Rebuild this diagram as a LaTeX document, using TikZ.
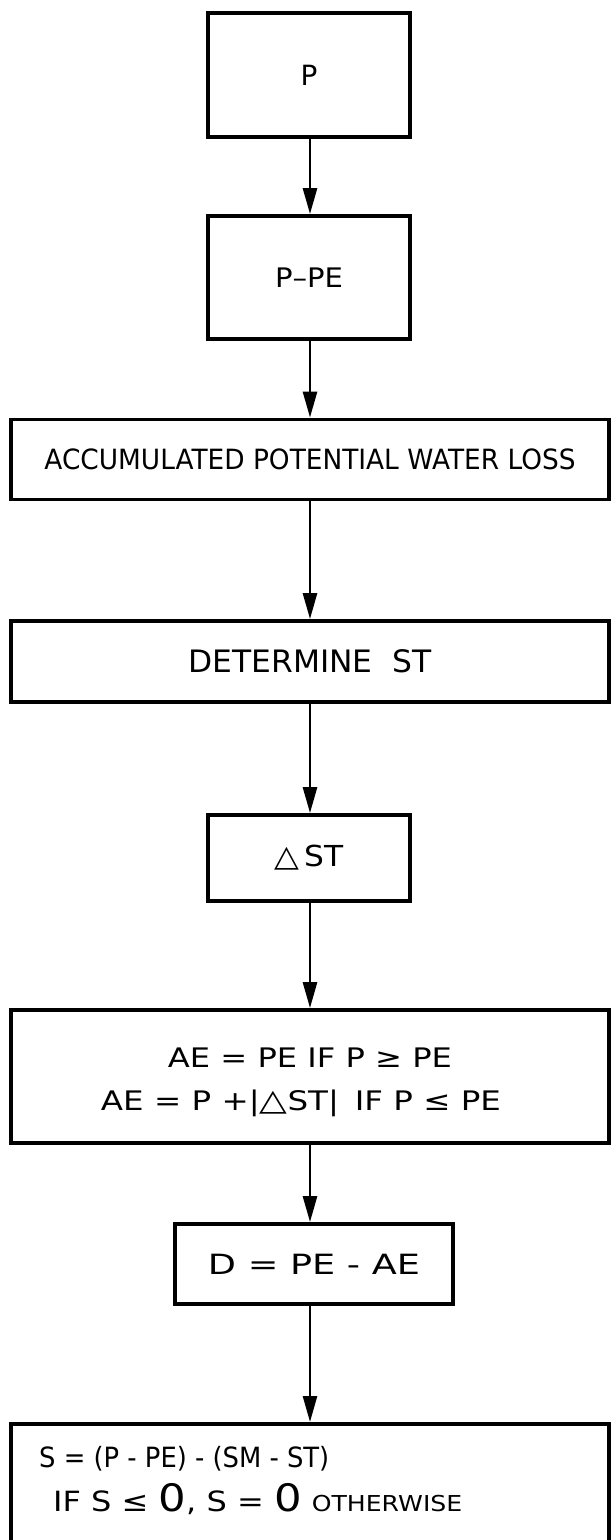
\documentclass[tikz,border=0pt]{standalone}
\usepackage{fontspec}
\usepackage{graphicx}
\setmainfont{DejaVu Sans}
\usetikzlibrary{arrows.meta,calc}
\newcommand\fitw[3]{{\fontsize{#1}{#1}\selectfont\resizebox{#2}{\height}{#3}}}
\newcommand\tri{{\fontsize{30}{30}\selectfont △}}
\begin{document}
\begin{tikzpicture}[x=1bp,y=-1bp,
  box/.style={draw, line width=3.8bp, inner sep=0pt},
  arr/.style={line width=2.6bp, -{Triangle[length=26bp,width=14bp]}},
  lbl/.style={inner sep=0pt}]
\fill[white] (0,0) rectangle (611,1540);
\useasboundingbox (0,0) rectangle (611,1540);
\coordinate (axis) at (310,0);
% boxes
\node[box, minimum width=202bp, minimum height=124bp] (p) at (309,75) {\fontsize{28}{28}\selectfont P};
\node[box, minimum width=202bp, minimum height=123bp] (ppe) at (309,277.5) {\fitw{27}{68bp}{P–PE}};
\node[box, minimum width=598bp, minimum height=80bp] (acc) at (310,459.5) {\fitw{28}{531bp}{ACCUMULATED POTENTIAL WATER LOSS}};
\node[box, minimum width=598bp, minimum height=81bp] (det) at (310,661.5) {\fitw{31}{243bp}{DETERMINE~~ST}};
\node[box, minimum width=202bp, minimum height=86bp] (dst) at (309,858) {\fitw{29}{69bp}{\tri\,ST}};
\node[box, minimum width=598bp, minimum height=133bp] (ae) at (310,1076.5) {};
\node[lbl, anchor=base] (ae1) at (310,1067) {\fitw{27}{284bp}{AE = PE IF P ≥ PE}};
\node[lbl, anchor=base] (ae2) at (301,1110) {\fitw{27}{400bp}{AE = P +|\tri ST|\, IF P ≤ PE}};
\node[box, minimum width=278bp, minimum height=80bp] (d) at (314,1264) {\fitw{28}{212bp}{D = PE - AE}};
\node[box, minimum width=598bp, minimum height=140bp, anchor=north] (s) at (310,1422) {};
\node[lbl, anchor=base west] (s1) at (39,1467) {\fitw{28}{290bp}{S = (P - PE) - (SM - ST)}};
\node[lbl, anchor=base west] (s2) at (53,1511) {\fitw{28}{409bp}{IF S ≤ {\fontsize{38}{38}\selectfont 0}, S = {\fontsize{38}{38}\selectfont 0} {\fontsize{22}{22}\selectfont OTHERWISE}}};
% connectors
\draw[arr] (p.south -| axis) -- (ppe.north -| axis);
\draw[arr] (ppe.south -| axis) -- (acc.north -| axis);
\draw[arr] (acc.south -| axis) -- (det.north -| axis);
\draw[arr] (det.south -| axis) -- (dst.north -| axis);
\draw[arr] (dst.south -| axis) -- (ae.north -| axis);
\draw[arr] (ae.south -| axis) -- (d.north -| axis);
\draw[arr] (d.south -| axis) -- (s.north -| axis);
\end{tikzpicture}
\end{document}
